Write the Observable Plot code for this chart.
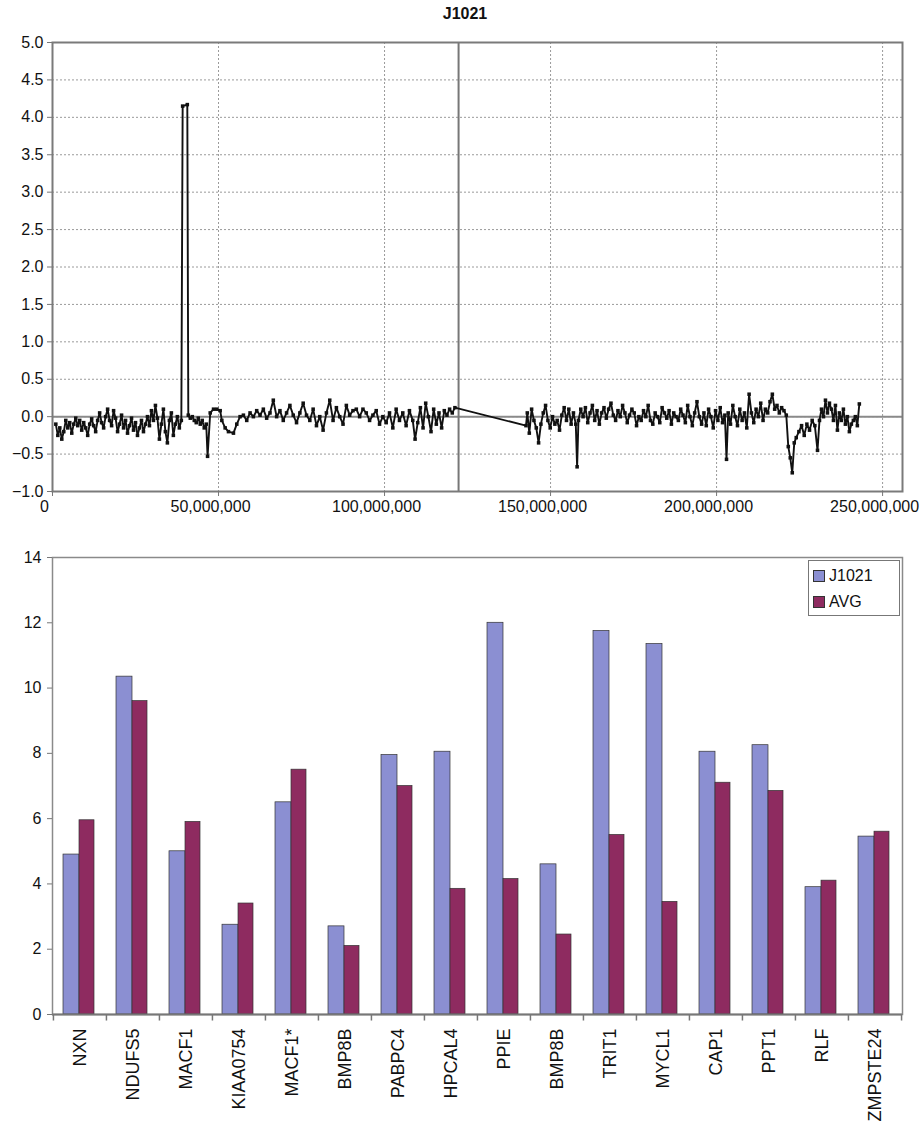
<!DOCTYPE html>
<html>
<head>
<meta charset="utf-8">
<script src="https://cdn.jsdelivr.net/npm/d3@7"></script>
<script src="https://cdn.jsdelivr.net/npm/@observablehq/plot@0.6"></script>
<style>
  html, body { margin: 0; padding: 0; background: #fff; }
  body { width: 920px; height: 1128px; position: relative; font-family: "Liberation Sans", Arial, sans-serif; overflow: hidden; }
  #title { height: 28px; line-height: 28px; text-align: center; font-weight: bold; font-size: 16px; color: #111; padding-left: 10px; }
  #legend { position: absolute; left: 808px; top: 560px; width: 90px; height: 54px; border: 1.5px solid #777; background: #fff; font-size: 16px; color: #111; }
  #legend .row { position: absolute; left: 4px; display: flex; align-items: center; }
  #legend .sw { width: 10px; height: 10px; border: 1px solid #333; margin-right: 4px; }
  svg { display: block; }
</style>
</head>
<body>
<div id="title">J1021</div>
<div id="topchart"></div>
<div id="bottomchart"></div>
<div id="legend"></div>
<script>
// ---------- Top chart data: chromosome position (Mb) and log ratio ----------
const positionMb = [
  1.0,1.6,2.2,2.8,3.4,4.0,4.6,5.2,5.8,6.4,7.0,7.6,8.2,8.8,9.4,10.0,10.6,11.2,11.8,12.4,
  13.0,13.6,14.2,14.8,15.4,16.0,16.6,17.2,17.8,18.4,19.0,19.6,20.2,20.8,21.4,22.0,22.6,23.2,23.8,24.4,
  25.0,25.6,26.2,26.8,27.4,28.0,28.6,29.2,29.8,30.4,31.0,31.6,32.2,32.8,33.4,34.0,34.6,35.2,35.8,36.4,
  37.0,37.6,38.2,38.8,39.2,40.6,40.9,41.5,42.1,42.7,43.3,43.9,44.5,45.1,45.7,46.3,46.7,47.5,48.5,49.5,
  50.5,51.0,52.0,53.0,54.5,55.5,56.5,57.5,58.5,59.5,60.5,61.5,62.5,63.5,64.5,65.5,66.5,67.5,68.5,69.5,
  70.5,71.5,72.5,73.5,74.5,75.5,76.5,77.5,78.5,79.5,80.5,81.5,82.5,83.5,84.5,85.5,86.5,87.5,88.5,89.5,
  90.5,91.5,92.5,93.5,94.5,95.5,96.5,97.5,98.5,99.5,100.5,101.5,102.5,103.5,104.5,105.5,106.5,107.5,108.5,109.2,
  110.0,110.8,111.6,112.4,113.2,114.0,114.8,115.6,116.4,117.2,118.0,118.8,119.6,120.4,121.2,
  142.6,143.0,143.6,144.3,145.0,145.7,146.4,147.1,147.8,148.5,149.2,149.9,150.6,151.3,152.0,152.7,153.4,154.1,154.8,155.5,
  156.2,156.9,157.6,158.0,158.4,159.1,159.8,160.5,161.2,161.9,162.6,163.3,164.0,164.7,165.4,166.1,166.8,167.5,168.2,168.9,
  169.6,170.3,171.0,171.7,172.4,173.1,173.8,174.5,175.2,175.9,176.6,177.3,178.0,178.7,179.4,180.1,180.8,181.5,182.2,182.9,
  183.6,184.3,185.0,185.7,186.4,187.1,187.8,188.5,189.2,189.9,190.6,191.3,192.0,192.7,193.4,194.1,194.8,195.5,196.2,196.9,
  197.6,198.3,199.0,199.7,200.4,201.1,201.8,202.5,203.0,203.5,204.2,204.9,205.6,206.3,207.0,207.7,208.4,209.1,209.8,210.5,
  211.2,211.9,212.6,213.3,214.0,214.7,215.4,216.1,216.8,217.5,218.2,218.9,219.6,220.3,221.0,221.6,222.2,222.8,223.4,224.0,
  224.8,225.6,226.4,227.2,228.0,228.8,229.6,230.4,231.0,231.6,232.2,232.8,233.4,234.0,234.6,235.2,235.8,236.4,237.0,237.6,
  238.2,238.8,239.4,240.0,240.6,241.2,241.8,242.4,243.0
];
const logRatio = [
  -0.10,-0.25,-0.15,-0.30,-0.20,-0.05,-0.15,-0.08,-0.22,-0.10,-0.02,-0.12,-0.05,-0.18,-0.08,-0.15,-0.25,-0.10,-0.03,-0.12,
  -0.20,-0.05,0.05,-0.08,-0.15,0.00,0.10,-0.05,-0.12,0.08,-0.02,-0.20,-0.10,0.02,-0.15,-0.05,-0.22,-0.12,-0.02,-0.18,
  -0.08,-0.25,-0.15,-0.05,-0.20,-0.10,0.00,-0.12,0.08,-0.05,0.15,-0.02,-0.30,-0.10,0.10,-0.20,-0.35,-0.05,0.05,-0.25,
  -0.10,0.00,-0.15,-0.05,4.15,4.17,0.02,-0.02,0.00,-0.05,-0.08,-0.02,-0.10,-0.05,-0.15,-0.10,-0.53,0.05,0.10,0.10,
  0.08,-0.05,-0.15,-0.20,-0.22,-0.10,0.00,0.02,-0.05,0.05,0.00,0.08,0.02,0.10,-0.02,0.05,0.22,0.00,0.08,-0.05,
  0.05,0.15,0.02,-0.08,0.05,0.18,0.02,-0.05,0.10,-0.12,0.00,-0.18,0.05,0.22,-0.05,0.12,0.00,-0.10,0.15,0.02,
  0.08,0.10,0.00,0.10,0.05,-0.05,0.02,0.08,-0.10,0.00,-0.08,0.05,-0.15,0.10,-0.05,0.05,-0.12,0.08,-0.05,-0.30,
  -0.08,0.12,-0.15,0.18,0.00,-0.20,0.10,-0.10,0.05,-0.15,0.08,0.02,0.10,0.05,0.12,
  -0.12,0.05,-0.22,0.10,-0.05,-0.15,-0.35,-0.10,0.05,0.15,-0.05,-0.15,0.00,-0.10,-0.05,-0.18,0.02,0.12,-0.05,0.10,
  -0.10,0.05,-0.10,-0.67,-0.05,0.10,0.00,0.12,-0.08,0.05,0.15,-0.05,0.08,-0.10,0.05,0.12,-0.02,0.10,0.18,0.02,
  -0.05,0.08,0.00,0.15,0.05,-0.08,0.02,0.10,0.05,-0.12,0.00,-0.05,0.08,0.00,0.15,-0.05,-0.10,0.05,0.00,-0.08,
  0.12,0.05,-0.02,0.08,-0.10,0.05,0.00,-0.05,0.10,0.02,-0.08,0.15,0.00,-0.12,0.05,0.20,0.00,-0.10,0.05,-0.12,
  0.10,0.00,-0.15,0.08,-0.05,0.12,-0.08,0.02,-0.57,0.05,-0.10,0.15,0.00,-0.12,0.10,-0.05,0.05,-0.15,0.30,0.05,
  -0.08,0.10,0.00,0.18,-0.05,0.10,0.05,0.20,0.30,0.10,0.15,0.05,0.12,0.08,0.02,-0.40,-0.55,-0.75,-0.35,-0.28,
  -0.20,-0.12,-0.25,-0.10,-0.18,-0.05,-0.12,-0.45,-0.05,0.10,0.00,0.22,0.05,0.18,0.10,-0.05,0.15,-0.18,0.05,-0.05,
  0.10,-0.10,0.00,-0.20,-0.10,-0.05,0.00,-0.12,0.17
];
const centromerePosition = [122.3e6];
const xTickValues = [0, 50e6, 100e6, 150e6, 200e6, 250e6];
const yTickValues = [-1, -0.5, 0, 0.5, 1, 1.5, 2, 2.5, 3, 3.5, 4, 4.5, 5];

// ---------- Bottom chart data ----------
const genes = ["NXN","NDUFS5","MACF1","KIAA0754","MACF1*","BMP8B","PABPC4","HPCAL4","PPIE","BMP8B","TRIT1","MYCL1","CAP1","PPT1","RLF","ZMPSTE24"];
const j1021Values = [4.9, 10.35, 5.0, 2.75, 6.5, 2.7, 7.95, 8.05, 12.0, 4.6, 11.75, 11.35, 8.05, 8.25, 3.9, 5.45];
const avgValues   = [5.95, 9.6, 5.9, 3.4, 7.5, 2.1, 7.0, 3.85, 4.15, 2.45, 5.5, 3.45, 7.1, 6.85, 4.1, 5.6];
const seriesNames = ["J1021", "AVG"];
const seriesColors = ["#8b8fd2", "#8e2b60"];
const barTicks = [0, 2, 4, 6, 8, 10, 12, 14];

const fontStack = "'Liberation Sans', Arial, Helvetica, sans-serif";

// ---------- Top chart ----------
const points = positionMb.map((p, i) => ({pos: p * 1e6, v: logRatio[i]})).filter(d => d.v !== undefined);
const W = 920, mL = 52, mR = 18;

const topChart = Plot.plot({
  width: W, height: 498,
  marginTop: 14, marginLeft: mL, marginRight: mR, marginBottom: 35,
  style: {fontFamily: fontStack, fontSize: "16px", color: "#111", background: "#fff"},
  x: {domain: [0, 256e6], label: null},
  y: {domain: [-1, 5], label: null},
  marks: [
    Plot.gridX(xTickValues, {stroke: "#9a9a9a", strokeOpacity: 1, strokeDasharray: "2,2"}),
    Plot.gridY(yTickValues, {stroke: "#9a9a9a", strokeOpacity: 1, strokeDasharray: "2,2"}),
    Plot.ruleY([0], {stroke: "#8a8a8a", strokeWidth: 2}),
    Plot.ruleX(centromerePosition, {stroke: "#777", strokeWidth: 2}),
    Plot.frame({stroke: "#7a7a7a", strokeWidth: 2}),
    Plot.axisX(xTickValues, {tickSize: 5, tickFormat: () => "", stroke: "#777", label: null}),
    Plot.axisX(xTickValues, {tickFormat: d3.format(","), tickSize: 0, tickPadding: 9, dx: -8, fontSize: 16, label: null}),
    Plot.axisY(yTickValues, {tickFormat: d3.format(".1f"), tickSize: 5, tickPadding: 4, stroke: "#777", fontSize: 16, label: null}),
    Plot.line(points, {x: "pos", y: "v", stroke: "#111", strokeWidth: 1.9}),
    Plot.dot(points, {x: "pos", y: "v", symbol: "square", r: 2, fill: "#111", stroke: "none"})
  ]
});
document.getElementById("topchart").appendChild(topChart);

// ---------- Bottom chart ----------
const idx = d3.range(genes.length);
const rows = idx.map(i => ({i, j: j1021Values[i], a: avgValues[i]}));
const step = (W - mL - mR) / genes.length;

const bottomChart = Plot.plot({
  width: W, height: 602,
  marginTop: 31, marginLeft: mL, marginRight: mR, marginBottom: 114,
  style: {fontFamily: fontStack, fontSize: "16px", color: "#111", background: "#fff"},
  x: {domain: idx, padding: 0, label: null},
  y: {domain: [0, 14], label: null},
  marks: [
    Plot.frame({stroke: "#8a8a8a", strokeWidth: 1.5}),
    Plot.barY(rows, {x: "i", y: "j", fill: seriesColors[0], stroke: "#333", strokeWidth: 0.7, insetLeft: 10, insetRight: 27}),
    Plot.barY(rows, {x: "i", y: "a", fill: seriesColors[1], stroke: "#333", strokeWidth: 0.7, insetLeft: 26, insetRight: 12}),
    Plot.ruleY([0], {stroke: "#777", strokeWidth: 2}),
    Plot.ruleX(idx, {x: d => d, dx: -step / 2, y1: 0, y2: -0.2, stroke: "#777", strokeWidth: 1.5}),
    Plot.ruleX([idx[idx.length - 1]], {x: d => d, dx: step / 2, y1: 0, y2: -0.2, stroke: "#777", strokeWidth: 1.5}),
    Plot.axisX({tickFormat: i => genes[i], tickSize: 0, tickPadding: 14, tickRotate: -90, fontSize: 18, label: null}),
    Plot.axisY(barTicks, {tickSize: 5, tickPadding: 6, stroke: "#777", fontSize: 16, label: null})
  ]
});
document.getElementById("bottomchart").appendChild(bottomChart);

// ---------- Legend ----------
const legend = document.getElementById("legend");
seriesNames.forEach((name, k) => {
  const row = document.createElement("div");
  row.className = "row";
  row.style.top = (6 + k * 26) + "px";
  const sw = document.createElement("div");
  sw.className = "sw";
  sw.style.background = seriesColors[k];
  const t = document.createElement("span");
  t.textContent = name;
  row.appendChild(sw); row.appendChild(t);
  legend.appendChild(row);
});
</script>
</body>
</html>
